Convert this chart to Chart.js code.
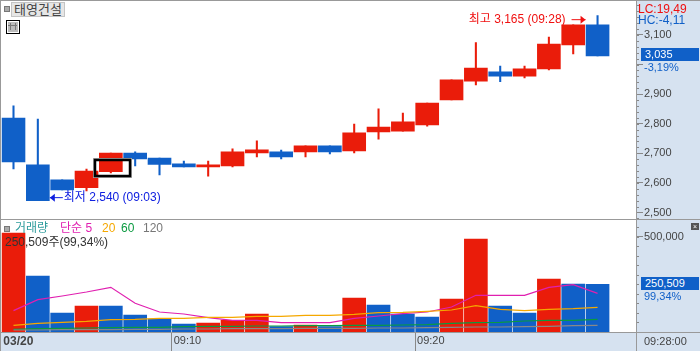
<!DOCTYPE html>
<html lang="ko"><head><meta charset="utf-8">
<script src="https://cdn.jsdelivr.net/npm/chart.js@4"></script>
<style>
html,body{margin:0;padding:0;background:#fff}
#wrap{position:relative;width:700px;height:351px;overflow:hidden;font:11px "Liberation Sans","Noto Sans CJK KR",sans-serif;color:#444}
#side{position:absolute;left:637px;top:0;width:63px;height:351px;background:#d6e2f0}
#band{position:absolute;left:0;top:333px;width:637px;height:18px;background:#d6e2f0}
canvas{position:absolute;left:0}
.t{position:absolute;white-space:nowrap;line-height:12px}
.l{position:absolute;background:#999}
.box{position:absolute;background:#1060c8;color:#fff;left:641px;width:54px;padding-left:4px;height:13px;line-height:13px}
.sq{position:absolute;width:4px;height:4px;background:#aaa;border:1px solid #777}
</style></head><body>
<div id="wrap">
<div id="side"></div><div id="band"></div>
<canvas id="price" width="700" height="220" style="top:0;width:700px;height:220px"></canvas>
<canvas id="vol" width="700" height="131" style="top:220px;width:700px;height:131px"></canvas>
<div class="l" style="left:0;top:0;width:700px;height:1px"></div>
<div class="l" style="left:0;top:0;width:1px;height:351px"></div>
<div class="l" style="left:0;top:219px;width:700px;height:1px"></div>
<div class="l" style="left:0;top:332px;width:700px;height:1px"></div>
<div class="l" style="left:636px;top:0;width:1px;height:351px"></div>
<div class="sq" style="left:4px;top:6px"></div>
<div class="t" style="left:11px;top:2px;width:52px;height:13px;background:#e6e6e6;border:1px solid #c4c4c4;line-height:14px;font-size:13px;text-align:center;color:#444">태영건설</div>
<div style="position:absolute;left:6px;top:20px;width:12px;height:12px;border:1px solid #000;background:#bbb;box-shadow:inset 1px 1px 0 #fff,inset -1px -1px 0 #fff"></div>
<div style="position:absolute;left:10px;top:23px;width:4px;height:7px;border-left:1px solid #777;border-right:1px solid #777"></div>
<div style="position:absolute;left:8px;top:25px;width:9px;height:1px;background:#777"></div>
<div class="sq" style="left:4px;top:226px"></div>
<div class="t" style="left:15px;top:222px;font-size:12px;color:#2e9c9c">거래량</div>
<div class="t" style="left:60px;top:222px;font-size:12px;color:#e020b0">단순 5</div>
<div class="t" style="left:102px;top:222px;font-size:12px;color:#f5a800">20</div>
<div class="t" style="left:121px;top:222px;font-size:12px;color:#0a9a40">60</div>
<div class="t" style="left:143px;top:222px;font-size:12px;color:#777">120</div>
<div class="t" style="left:5px;top:236px;font-size:12px;color:#333">250,509주(99,34%)</div>
<div class="t" style="left:638px;top:3px;font-size:12px;color:#f01010">LC:19,49</div>
<div class="t" style="left:638px;top:14px;font-size:12px;color:#1060c8">HC:-4,11</div>
<div class="box" style="top:48px">3,035</div>
<div class="t" style="left:644px;top:61px;color:#1060c8;font-size:11px">-3,19%</div>
<div class="box" style="top:277px">250,509</div>
<div class="t" style="left:644px;top:290px;color:#1060c8">99,34%</div>
<div style="position:absolute;left:691px;top:223px;width:8px;height:7px;background:#555;color:#fff;font-size:7px;line-height:7px;text-align:center">×</div>
<div class="t" style="left:644px;top:335px">09:28:00</div>
</div>
<script>
const times = ["09:04","09:05","09:06","09:07","09:08","09:09","09:10","09:11","09:12","09:13","09:14","09:15","09:16","09:17","09:18","09:19","09:20","09:21","09:22","09:23","09:24","09:25","09:26","09:27","09:28"];
const opens  = [2819,2661,2610,2584,2638,2701,2684,2664,2654,2657,2701,2705,2705,2725,2708,2772,2775,2796,2880,2944,2975,2961,2985,3066,3134];
const closes = [2671,2540,2576,2640,2701,2681,2662,2654,2661,2705,2712,2688,2725,2705,2769,2789,2806,2870,2948,2988,2961,2985,3069,3134,3029];
const highs  = [2860,2816,2610,2647,2701,2705,2684,2674,2674,2715,2742,2711,2725,2725,2799,2850,2836,2870,2948,3074,2995,2995,3093,3134,3165];
const lows   = [2647,2540,2576,2573,2634,2657,2627,2654,2623,2654,2688,2681,2688,2698,2701,2748,2775,2792,2880,2931,2942,2955,2982,3036,3029];
const volumes= [519400,293800,99700,136400,136400,89200,68200,42000,47200,61200,94400,28000,36700,28000,178400,141700,94400,78700,173100,487900,136400,99700,278000,251800,250509];
const volUp  = [1,0,0,1,0,0,0,0,1,1,1,0,1,0,1,0,0,0,1,1,0,0,1,0,0];
const ma5  = [111900,169700,188900,209900,234400,150400,104900,94400,75200,61200,61200,49000,49000,49000,71700,84000,96200,104900,131200,192400,192400,192400,234400,248400,202900];
const ma20 = [35000,45500,50700,56000,64700,66500,71700,71700,77000,77000,82200,82200,87500,87500,92700,101400,103200,108400,115400,138200,118900,111900,118900,122400,129400];
const ma60 = [14000,17500,19200,21000,22700,24500,24500,28000,29700,29700,31500,31500,33200,33200,35000,35000,36700,38500,45500,49000,50700,57700,61200,61200,66500];
const ma120= [10500,10500,12200,12200,12200,14000,14000,15700,15700,17500,17500,17500,19200,19200,19200,21000,21000,22700,24500,26200,26200,28000,29700,33200,35000];
const priceTicks = [2500,2600,2700,2800,2900,3000,3100];
const volumeTicks = [500000];
const timeTicks = ["03/20","09:10","09:20"];
const RED="#ea1c0a", BLUE="#1060c8", AXIS="#888", TXT="#444";
const FONT='"Liberation Sans","Noto Sans CJK KR",sans-serif';
const XMIN=-0.5, XMAX=25.58;
const xs = times.map((_,i)=>i);
const priceColors = opens.map((o,i)=>closes[i]>=o?RED:BLUE);
Chart.defaults.animation=false;
Chart.defaults.font.family=FONT;

function fitRight(s){s.width=64;s.paddingTop=0;s.paddingBottom=0;}

function minorTicks(name,step,len){return {
  id:name,
  afterDatasetsDraw(c){
    const s=c.scales.y,g=c.ctx;g.save();g.strokeStyle=AXIS;g.lineWidth=1;
    for(let v=Math.ceil(s.min/step)*step;v<=s.max;v+=step){
      const y=Math.round(s.getPixelForValue(v))+.5;
      g.beginPath();g.moveTo(636,y);g.lineTo(636+len,y);g.stroke();
    }
    g.restore();
  }};}

const notes={id:'notes',afterDatasetsDraw(c){
  const g=c.ctx,x=c.scales.x,y=c.scales.y;g.save();
  g.font='12px '+FONT;g.textBaseline='middle';g.textAlign='left';
  // low note
  const ly=y.getPixelForValue(2540)-3,lx=x.getPixelForValue(1)+12;
  g.fillStyle=g.strokeStyle="#1020e0";g.lineWidth=1;
  g.beginPath();g.moveTo(lx,ly);g.lineTo(lx+13,ly);g.stroke();
  g.beginPath();g.moveTo(lx,ly);g.lineTo(lx+5,ly-4);g.lineTo(lx+5,ly+4);g.fill();
  g.fillText("최저 2,540 (09:03)",lx+14,ly);
  // high note
  const hy=y.getPixelForValue(3165)+4,hx=x.getPixelForValue(24)-12;
  g.fillStyle=g.strokeStyle="#f01010";
  g.textAlign='right';g.fillText("최고 3,165 (09:28)",hx-20,hy);
  g.beginPath();g.moveTo(hx-14,hy);g.lineTo(hx,hy);g.stroke();
  g.beginPath();g.moveTo(hx,hy);g.lineTo(hx-5,hy-4);g.lineTo(hx-5,hy+4);g.fill();
  // highlight box
  const bx=Math.round(x.getPixelForValue(4))-16,by=Math.round(y.getPixelForValue(2678));
  g.strokeStyle="#aaa";g.lineWidth=1;g.strokeRect(bx-1.5,by-1.5,38,19);
  g.strokeStyle="#000";g.lineWidth=2.5;g.strokeRect(bx,by,35,16);
  g.restore();
}};

new Chart(document.getElementById('price'),{
  type:'bar',
  data:{datasets:[
    {grouped:false,order:2,barThickness:1.4,backgroundColor:priceColors,data:xs.map(i=>({x:i,y:[lows[i],highs[i]]}))},
    {grouped:false,order:1,barThickness:23,backgroundColor:priceColors,data:xs.map(i=>({x:i,y:[opens[i],closes[i]]}))}
  ]},
  plugins:[minorTicks('pm',20,3),notes],
  options:{responsive:false,
    layout:{padding:{left:1.33,top:1,right:0,bottom:1}},
    plugins:{legend:{display:false},tooltip:{enabled:false}},
    scales:{
      x:{type:'linear',display:false,min:XMIN,max:XMAX,offset:false,grid:{offset:false}},
      y:{position:'right',min:2478,max:3214.6,
        afterBuildTicks(s){s.ticks=priceTicks.map(v=>({value:v}));},
        afterFit:fitRight,
        border:{display:false},
        grid:{drawOnChartArea:false,tickLength:7,tickColor:AXIS},
        ticks:{padding:1,color:TXT,font:{size:11},
          callback:v=>v===3000?'':v.toLocaleString('en-US')}}
    }}
});

new Chart(document.getElementById('vol'),{
  type:'bar',
  data:{datasets:[
    {type:'line',order:1,data:xs.map(i=>({x:i,y:ma120[i]})),borderColor:"#888",borderWidth:1.2,pointRadius:0,tension:0},
    {type:'line',order:1,data:xs.map(i=>({x:i,y:ma60[i]})),borderColor:"#0a9a40",borderWidth:1.2,pointRadius:0,tension:0},
    {type:'line',order:1,data:xs.map(i=>({x:i,y:ma20[i]})),borderColor:"#f5a800",borderWidth:1.2,pointRadius:0,tension:0},
    {type:'line',order:1,data:xs.map(i=>({x:i,y:ma5[i]})),borderColor:"#e020b0",borderWidth:1.2,pointRadius:0,tension:0},
    {order:2,barThickness:23,backgroundColor:volUp.map(u=>u?RED:BLUE),data:xs.map(i=>({x:i,y:volumes[i]}))}
  ]},
  plugins:[minorTicks('vm',50000,3)],
  options:{responsive:false,
    layout:{padding:{left:1.33,top:0,right:0,bottom:0}},
    plugins:{legend:{display:false},tooltip:{enabled:false}},
    scales:{
      x:{type:'linear',min:XMIN,max:XMAX,offset:false,
        afterBuildTicks(s){s.ticks=[{value:-0.5},{value:6.5},{value:16.5}];},
        afterFit(s){s.height=19;s.paddingLeft=0;s.paddingRight=0;},
        border:{display:false},
        grid:{offset:false,drawOnChartArea:false,tickLength:19,tickColor:c=>c.index===0?'transparent':AXIS},
        ticks:{autoSkip:false,maxRotation:0,align:'start',padding:-17,labelOffset:2,color:TXT,
          font:c=>c.index===0?{size:12,weight:'bold'}:{size:11},
          callback:(v,i)=>timeTicks[i]}},
      y:{position:'right',min:0,max:587600,
        afterBuildTicks(s){s.ticks=volumeTicks.map(v=>({value:v}));},
        afterFit:fitRight,
        border:{display:false},
        grid:{drawOnChartArea:false,tickLength:7,tickColor:AXIS},
        ticks:{padding:1,color:TXT,font:{size:11},callback:v=>v.toLocaleString('en-US')}}
    }}
});
</script>
</body></html>
